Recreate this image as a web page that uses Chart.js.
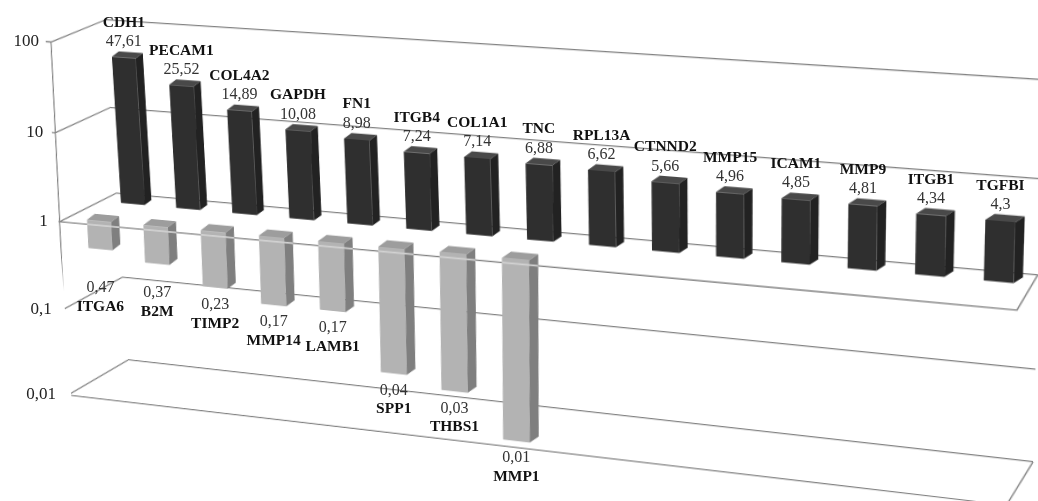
<!DOCTYPE html>
<html>
<head>
<meta charset="utf-8">
<script src="https://cdn.jsdelivr.net/npm/chart.js@4.4.1/dist/chart.umd.min.js"></script>
<style>
    html, body { margin: 0; padding: 0; background: #fff; overflow: hidden; }
    #wrap { position: relative; width: 1038px; height: 501px; }
    #chart { position: absolute; left: 0; top: 0; transform-origin: 0 0; }
    #labels { position: absolute; left: 0; top: 0; pointer-events: none; }
</style>
</head>
<body>
<div id="wrap">
    <canvas id="chart" width="1038" height="501"></canvas>
    <canvas id="labels" width="1038" height="501"></canvas>
</div>
<script>
// fold change per gene, back row = up, front row = down (same category slots)
const upGenes = ['CDH1', 'PECAM1', 'COL4A2', 'GAPDH', 'FN1', 'ITGB4', 'COL1A1', 'TNC', 'RPL13A', 'CTNND2', 'MMP15', 'ICAM1', 'MMP9', 'ITGB1', 'TGFBI'];
const upValues = [47.61, 25.52, 14.89, 10.08, 8.98, 7.24, 7.14, 6.88, 6.62, 5.66, 4.96, 4.85, 4.81, 4.34, 4.3];
const downGenes = ['ITGA6', 'B2M', 'TIMP2', 'MMP14', 'LAMB1', 'SPP1', 'THBS1', 'MMP1'];
const downValues = [0.47, 0.37, 0.23, 0.17, 0.17, 0.04, 0.03, 0.01];
const yTickValues = [100, 10, 1, 0.1, 0.01];
const yTickLabels = ['100', '10', '1', '0,1', '0,01'];

const downData = upGenes.map((_, i) => (i < downValues.length ? downValues[i] : null));

// screen corners of the back wall (the flat chart area is warped onto them)
const BACK_TL = [105, 20];
const BACK_TR = [1043, 80];
const BACK_BL = [128, 360];
const BACK_BR = [1033, 462];
// screen points of the front edge: axis top, axis bottom, right end of the level-1 floor
const FRONT_TL = [51, 42];
const FRONT_BL = [68, 395];
const FRONT_R1 = [1017, 310];

// how far each row sits from the back wall toward the front (0 = wall, 1 = front edge)
const ROW_DEPTH = [{ x: 0.2, y: 0.3 }, { x: 0.8, y: 0.85 }];
const BAR_DEPTH = [{ x: 8, y: -6 }, { x: 9, y: -7 }];

const GRID = '#828282';
const SERIF = '"Liberation Serif", "DejaVu Serif", serif';
const FACE = [
    { front: '#2f2f2f', side: '#222222', top: '#494949' },
    { front: '#b3b3b3', side: '#7f7f7f', top: '#9d9d9d' },
];
const STRIPE = '#d2d2d2';

const view = { H: null, front: null, rows: [] };

function homography(src, dst) {
    const A = [], b = [];
    for (let i = 0; i < 4; i++) {
        const [x, y] = src[i], [X, Y] = dst[i];
        A.push([x, y, 1, 0, 0, 0, -X * x, -X * y]); b.push(X);
        A.push([0, 0, 0, x, y, 1, -Y * x, -Y * y]); b.push(Y);
    }
    for (let c = 0; c < 8; c++) {
        let p = c;
        for (let r = c + 1; r < 8; r++) if (Math.abs(A[r][c]) > Math.abs(A[p][c])) p = r;
        [A[c], A[p]] = [A[p], A[c]];
        [b[c], b[p]] = [b[p], b[c]];
        for (let r = 0; r < 8; r++) {
            if (r === c) continue;
            const f = A[r][c] / A[c][c];
            for (let k = c; k < 8; k++) A[r][k] -= f * A[c][k];
            b[r] -= f * b[c];
        }
    }
    return b.map((v, i) => v / A[i][i]).concat(1);
}

function invert3(m) {
    const [a, b, c, d, e, f, g, h, i] = m;
    const A = e * i - f * h, B = -(d * i - f * g), C = d * h - e * g;
    const det = a * A + b * B + c * C;
    return [A / det, -(b * i - c * h) / det, (b * f - c * e) / det,
        B / det, (a * i - c * g) / det, -(a * f - c * d) / det,
        C / det, -(a * h - b * g) / det, (a * e - b * d) / det];
}

function project(H, x, y) {
    const w = H[6] * x + H[7] * y + H[8];
    return { x: (H[0] * x + H[1] * y + H[2]) / w, y: (H[3] * x + H[4] * y + H[5]) / w };
}

// affine map taking three flat points P onto three flat points Q
function affineFrom(P, Q) {
    const Xi = invert3([P[0][0], P[0][1], 1, P[1][0], P[1][1], 1, P[2][0], P[2][1], 1]);
    const solve = v => [0, 1, 2].map(r => Xi[r * 3] * v[0] + Xi[r * 3 + 1] * v[1] + Xi[r * 3 + 2] * v[2]);
    const rx = solve(Q.map(q => q[0])), ry = solve(Q.map(q => q[1]));
    return { a: rx[0], c: rx[1], e: rx[2], b: ry[0], d: ry[1], f: ry[2] };
}

const mapPt = (m, x, y) => ({ x: m.a * x + m.c * y + m.e, y: m.b * x + m.d * y + m.f });

function poly(ctx, pts) {
    ctx.beginPath();
    pts.forEach(([x, y], i) => (i ? ctx.lineTo(x, y) : ctx.moveTo(x, y)));
    ctx.closePath();
}

const fmt = v => String(v).replace('.', ',');

function drawFrame(chart) {
    const { ctx, chartArea: a, scales: { y } } = chart;
    const F = view.front;
    ctx.save();
    ctx.strokeStyle = GRID;
    ctx.lineWidth = 1.3;
    ctx.beginPath();
    for (const v of yTickValues) {
        const py = y.getPixelForValue(v);
        const q = mapPt(F, a.left, py);
        ctx.moveTo(a.left, py);
        ctx.lineTo(q.x, q.y);
        ctx.lineTo(q.x - 6, q.y);
    }
    const t = mapPt(F, a.left, y.getPixelForValue(100));
    const b = mapPt(F, a.left, y.getPixelForValue(0.01));
    ctx.moveTo(t.x, t.y);
    ctx.lineTo(b.x, b.y);
    // floor at 1 (where the bars start) and the bottom floor
    for (const v of [1, 0.01]) {
        const py = y.getPixelForValue(v);
        const l = mapPt(F, a.left, py), r = mapPt(F, a.right, py);
        ctx.moveTo(l.x, l.y);
        ctx.lineTo(r.x, r.y);
        ctx.lineTo(a.right, py);
    }
    ctx.stroke();
    ctx.restore();
}

function barBoxes(chart, index) {
    const values = index === 0 ? upValues : downData;
    const out = [];
    chart.getDatasetMeta(index).data.forEach((bar, i) => {
        if (values[i] == null) return;
        const { x, y, base, width } = bar.getProps(['x', 'y', 'base', 'width'], true);
        out.push({ l: x - width / 2, r: x + width / 2, t: Math.min(y, base), b: Math.max(y, base) });
    });
    return out;
}

function drawFaces(chart, index) {
    const ctx = chart.ctx;
    const e = BAR_DEPTH[index];
    for (const { l, r, t, b } of barBoxes(chart, index)) {
        ctx.fillStyle = FACE[index].top;
        poly(ctx, [[l, t], [r, t], [r + e.x, t + e.y], [l + e.x, t + e.y]]);
        ctx.fill();
        ctx.fillStyle = FACE[index].side;
        poly(ctx, [[r, t], [r + e.x, t + e.y], [r + e.x, b + e.y], [r, b]]);
        ctx.fill();
    }
}

function drawStripes(chart) {
    // the front edge of the level-1 floor shows as a pale line across the front row
    const { ctx, chartArea: a, scales: { y } } = chart;
    const e = BAR_DEPTH[1];
    ctx.beginPath();
    for (const { l, r, t, b } of barBoxes(chart, 1)) {
        ctx.moveTo(l, t);
        ctx.lineTo(r, t);
        ctx.lineTo(r + e.x, t + e.y);
        ctx.lineTo(r + e.x, b + e.y);
        ctx.lineTo(l, b);
        ctx.closePath();
    }
    ctx.clip();
    const ratio = chart.currentDevicePixelRatio;
    ctx.setTransform(ratio, 0, 0, ratio, 0, 0);
    const py = y.getPixelForValue(1);
    const l = mapPt(view.front, a.left, py), r = mapPt(view.front, a.right, py);
    ctx.strokeStyle = STRIPE;
    ctx.lineWidth = 1.8;
    ctx.beginPath();
    ctx.moveTo(l.x, l.y);
    ctx.lineTo(r.x, r.y);
    ctx.stroke();
}

function drawLabels(chart) {
    const lc = document.getElementById('labels').getContext('2d');
    const { chartArea: a, scales: { y } } = chart;
    const H = view.H;
    const toScreen = (m, x, py) => { const q = mapPt(m, x, py); return project(H, q.x, q.y); };
    lc.clearRect(0, 0, 1038, 501);
    lc.textBaseline = 'middle';

    lc.fillStyle = '#222';
    lc.font = `17px ${SERIF}`;
    lc.textAlign = 'right';
    yTickValues.forEach((v, i) => {
        const p = toScreen(view.front, a.left, y.getPixelForValue(v));
        lc.fillText(yTickLabels[i], p.x - 12, p.y);
    });

    lc.textAlign = 'center';
    chart.getDatasetMeta(0).data.forEach((bar, i) => {
        const { x, y: top } = bar.getProps(['x', 'y'], true);
        const p = toScreen(view.rows[0], x, top);
        lc.fillStyle = '#333';
        lc.font = `16px ${SERIF}`;
        lc.fillText(fmt(upValues[i]), p.x, p.y - 16);
        lc.fillStyle = '#111';
        lc.font = `bold 15.5px ${SERIF}`;
        lc.fillText(upGenes[i], p.x, p.y - 35);
    });

    // short bars keep their labels a fixed distance below the level-1 floor
    chart.getDatasetMeta(1).data.forEach((bar, i) => {
        if (downData[i] == null) return;
        const { x, y: end, base } = bar.getProps(['x', 'y', 'base'], true);
        const p = toScreen(view.rows[1], x, end);
        const p0 = toScreen(view.rows[1], x, base);
        const ly = Math.max(p.y + 17, p0.y + 67);
        lc.fillStyle = '#333';
        lc.font = `16px ${SERIF}`;
        lc.fillText(fmt(downValues[i]), p.x, ly);
        lc.fillStyle = '#111';
        lc.font = `bold 15.5px ${SERIF}`;
        lc.fillText(downGenes[i], p.x, ly + 19);
    });
}

const perspective = {
    id: 'perspective',
    afterLayout(chart) {
        const a = chart.chartArea;
        const y = chart.scales.y;
        const H = homography(
            [[a.left, a.top], [a.right, a.top], [a.left, a.bottom], [a.right, a.bottom]],
            [BACK_TL, BACK_TR, BACK_BL, BACK_BR]
        );
        const Hi = invert3(H);
        const flat = ([sx, sy]) => { const p = project(Hi, sx, sy); return [p.x, p.y]; };
        view.H = H;
        view.front = affineFrom(
            [[a.left, y.getPixelForValue(100)], [a.left, y.getPixelForValue(0.01)], [a.right, y.getPixelForValue(1)]],
            [flat(FRONT_TL), flat(FRONT_BL), flat(FRONT_R1)]
        );
        const F = view.front;
        view.rows = ROW_DEPTH.map(({ x: fx, y: fy }) => ({
            a: 1 + fx * (F.a - 1), c: fx * F.c, e: fx * F.e,
            b: fy * F.b, d: 1 + fy * (F.d - 1), f: fy * F.f,
        }));
        chart.canvas.style.transform =
            `matrix3d(${H[0]},${H[3]},0,${H[6]},${H[1]},${H[4]},0,${H[7]},0,0,1,0,${H[2]},${H[5]},0,${H[8]})`;
    },
    beforeDatasetsDraw(chart) {
        drawFrame(chart);
    },
    beforeDatasetDraw(chart, args) {
        const m = view.rows[args.index];
        chart.ctx.save();
        chart.ctx.transform(m.a, m.b, m.c, m.d, m.e, m.f);
    },
    afterDatasetDraw(chart, args) {
        drawFaces(chart, args.index);
        if (args.index === 1) drawStripes(chart);
        chart.ctx.restore();
    },
    afterDraw(chart) {
        drawLabels(chart);
    },
};

new Chart(document.getElementById('chart'), {
    type: 'bar',
    data: {
        labels: upGenes,
        datasets: [
            {
                label: 'up',
                data: upValues,
                base: 1,
                backgroundColor: FACE[0].front,
                grouped: false,
                barPercentage: 0.43,
                categoryPercentage: 1,
                clip: false,
                order: 2,
            },
            {
                label: 'down',
                data: downData,
                base: 1,
                backgroundColor: FACE[1].front,
                grouped: false,
                barPercentage: 0.43,
                categoryPercentage: 1,
                clip: false,
                order: 1,
            },
        ],
    },
    options: {
        responsive: false,
        devicePixelRatio: 1,
        animation: false,
        layout: { padding: { left: 70, right: 40, top: 40, bottom: 100 } },
        scales: {
            x: { type: 'category', display: false },
            y: {
                type: 'logarithmic',
                min: 0.01,
                max: 100,
                afterBuildTicks: scale => { scale.ticks = yTickValues.map(v => ({ value: v })); },
                ticks: { display: false },
                border: { display: false },
                grid: { color: GRID, lineWidth: 1.3, drawTicks: false },
            },
        },
        plugins: {
            legend: { display: false },
            tooltip: { enabled: false },
        },
    },
    plugins: [perspective],
});
</script>
</body>
</html>
